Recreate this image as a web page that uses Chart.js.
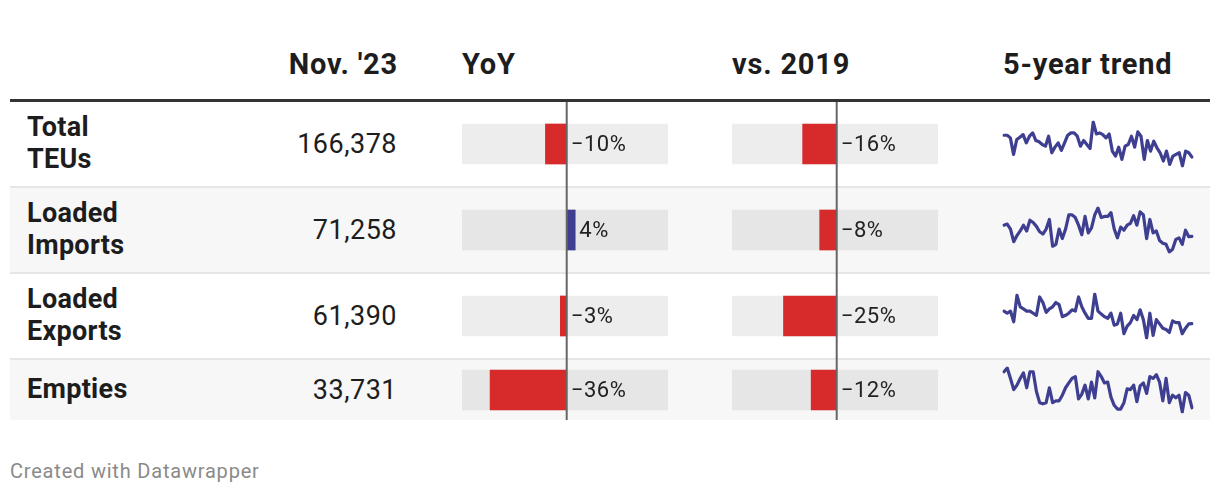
<!DOCTYPE html>
<html>
<head>
<meta charset="utf-8">
<script src="https://cdn.jsdelivr.net/npm/chart.js@4/dist/chart.umd.min.js"></script>
<style>
  body { margin: 0; width: 1220px; height: 496px; background: #fff; font-family: Roboto, "Noto Sans", sans-serif; color: #1d1d1d; position: relative; overflow: hidden; }
  .abs { position: absolute; }
  .head { font-weight: 700; font-size: 29px; line-height: 28px; top: 50px; letter-spacing: 0.8px; }
  .label { font-weight: 700; font-size: 27px; line-height: 31.6px; left: 27px; display: flex; align-items: center; letter-spacing: 0.3px; }
  .value { font-size: 27px; left: 0; width: 397px; text-align: right; display: flex; align-items: center; justify-content: flex-end; letter-spacing: 0.5px; }
  canvas { position: absolute; }
</style>
</head>
<body>
<script>
// === Data ===
const rowLabels = [["Total", "TEUs"], ["Loaded", "Imports"], ["Loaded", "Exports"], ["Empties"]];
const nov23 = [166378, 71258, 61390, 33731];
const yoyChange = [-10, 4, -3, -36];
const vs2019Change = [-16, -8, -25, -12];
const barRange = [-49.2, 47.6];

const totalTeus = [196100, 196100, 192500, 170000, 190250, 193400, 197000, 185750, 194750, 199250, 188900, 187100, 183500, 181250, 194750, 172250, 179900, 185750, 175400, 185750, 196100, 199250, 199250, 194750, 181250, 188900, 183500, 178100, 214100, 197900, 199250, 197000, 192500, 197900, 174500, 167750, 179900, 163250, 181250, 183500, 194750, 179900, 200600, 194750, 163250, 188900, 174500, 188000, 179000, 172250, 161000, 174500, 156500, 167750, 170000, 172250, 154250, 174500, 172250, 166378];
const loadedImports = [77450, 78080, 75340, 68380, 71750, 74290, 77450, 74290, 80190, 78930, 76820, 73860, 72600, 75340, 80620, 65850, 66900, 75340, 70070, 75340, 83150, 83150, 81670, 77450, 72180, 82300, 73230, 75970, 83150, 86950, 81670, 82300, 82300, 84410, 75340, 70490, 76400, 74710, 77450, 78510, 82730, 77450, 84840, 83150, 70070, 80620, 73230, 74290, 69010, 67530, 66900, 62680, 64160, 69640, 70490, 66900, 74710, 71120, 71258];
const loadedExports = [67600, 66550, 67600, 62350, 75370, 69700, 68650, 67600, 67600, 66550, 65500, 74530, 71800, 66970, 68650, 69700, 71800, 70750, 64870, 65500, 66550, 68230, 67600, 74530, 69700, 66550, 64030, 64030, 76000, 67600, 66130, 64870, 64030, 66550, 60670, 61300, 66550, 56470, 60250, 61930, 65500, 63400, 68230, 63400, 54370, 66550, 55630, 63400, 61300, 59200, 58570, 57100, 62770, 61930, 61930, 56470, 59200, 61300, 61390];
const empties = [49980, 51660, 46960, 41920, 43940, 46960, 49480, 42760, 49980, 49980, 41080, 36040, 35540, 36040, 42760, 36040, 36880, 36880, 39400, 42760, 44940, 46960, 47800, 37720, 39900, 43940, 37720, 45280, 38220, 49980, 47800, 44940, 45280, 38560, 34860, 33180, 33180, 36040, 42260, 41920, 43940, 36540, 43600, 44940, 40240, 47800, 46960, 48640, 45280, 36880, 46960, 36040, 39400, 38220, 39400, 31840, 40580, 39400, 33731];
const trends = [totalTeus, loadedImports, loadedExports, empties];

// === Layout ===
const rows = [
  { top: 102, height: 84, shaded: false },
  { top: 188, height: 84, shaded: true },
  { top: 274, height: 84, shaded: false },
  { top: 360, height: 60, shaded: true }
];
const RED = "#d62a2b";
const BLUE = "#3f3f92";

function addDiv(cls, style, html) {
  const d = document.createElement("div");
  d.className = "abs " + cls;
  Object.assign(d.style, style);
  d.innerHTML = html;
  document.body.appendChild(d);
  return d;
}

// headers
addDiv("head", { left: "0px", width: "398px", textAlign: "right" }, "Nov. '23");
addDiv("head", { left: "462px" }, "YoY");
addDiv("head", { left: "732px" }, "vs. 2019");
addDiv("head", { left: "1003px" }, "5-year trend");
addDiv("", { left: "10px", top: "99px", width: "1200px", height: "3px", background: "#333" }, "");

// rows
rows.forEach((r, i) => {
  if (r.shaded) {
    addDiv("", { left: "10px", top: r.top + "px", width: "1200px", height: r.height + "px", background: "#f7f7f7" }, "");
  }
  if (i < rows.length - 1) {
    addDiv("", { left: "10px", top: (r.top + r.height) + "px", width: "1200px", height: "2px", background: "#e6e6e6" }, "");
  }
  addDiv("label", { top: r.top + "px", height: r.height + "px" }, rowLabels[i].join("<br>"));
  addDiv("value", { top: r.top + "px", height: r.height + "px" }, nov23[i].toLocaleString("en-US"));
});

addDiv("", { left: "10px", top: "459px", fontSize: "20px", letterSpacing: "0.8px", color: "#8a8a8a" }, "Created with Datawrapper");

// === Bar cells ===
const fmtPct = (v) => (v < 0 ? "\u2212" + Math.abs(v) : String(v)) + "%";

const barExtras = {
  id: "barExtras",
  afterDatasetsDraw(chart) {
    const c = chart.ctx;
    const xs = chart.scales.x;
    const x0 = xs.getPixelForValue(0);
    const v = chart.data.datasets[0].data[0][1];
    const yMid = (chart.chartArea.top + chart.chartArea.bottom) / 2;
    c.save();
    c.strokeStyle = "#666";
    c.lineWidth = 2;
    c.beginPath();
    c.moveTo(x0, 0);
    c.lineTo(x0, chart.height);
    c.stroke();
    c.fillStyle = "#222";
    c.font = "22px Roboto";
    c.letterSpacing = "0.6px";
    c.textBaseline = "middle";
    c.fillText(fmtPct(v), Math.max(x0, xs.getPixelForValue(v)) + 4, yMid + 1);
    c.restore();
  }
};

function makeBar(left, rowIdx, value) {
  const r = rows[rowIdx];
  const last = rowIdx === rows.length - 1;
  const cv = document.createElement("canvas");
  cv.width = 206;
  cv.height = last ? r.height : r.height + 2;
  cv.style.left = left + "px";
  cv.style.top = r.top + "px";
  document.body.appendChild(cv);
  new Chart(cv.getContext("2d"), {
    type: "bar",
    data: {
      labels: [""],
      datasets: [
        { data: [[0, value]], backgroundColor: value < 0 ? RED : BLUE, barThickness: 40, grouped: false, order: 0 },
        { data: [barRange], backgroundColor: r.shaded ? "#e6e6e6" : "#ededed", barThickness: 40, grouped: false, order: 1 }
      ]
    },
    options: {
      indexAxis: "y",
      responsive: false,
      animation: false,
      devicePixelRatio: 1,
      layout: { padding: { bottom: last ? 0 : 2 } },
      scales: {
        x: { display: false, min: barRange[0], max: barRange[1] },
        y: { display: false }
      },
      plugins: { legend: { display: false }, tooltip: { enabled: false } }
    },
    plugins: [barExtras]
  });
}

// === Sparklines ===
function makeSpark(rowIdx, values) {
  const r = rows[rowIdx];
  const cv = document.createElement("canvas");
  cv.width = 200;
  cv.height = 50;
  cv.style.left = "998px";
  cv.style.top = (r.top + r.height / 2 - 25) + "px";
  document.body.appendChild(cv);
  new Chart(cv.getContext("2d"), {
    type: "line",
    data: {
      labels: values.map((_, i) => i),
      datasets: [{ data: values, borderColor: BLUE, borderWidth: 3.2, pointRadius: 0, tension: 0, borderJoinStyle: "round", borderCapStyle: "round" }]
    },
    options: {
      responsive: false,
      animation: false,
      devicePixelRatio: 1,
      layout: { padding: { left: 6, right: 6, top: 3, bottom: 3 } },
      scales: { x: { display: false }, y: { display: false, bounds: "data" } },
      plugins: { legend: { display: false }, tooltip: { enabled: false } }
    }
  });
}

document.fonts.load("22px Roboto").then(() => {
  rows.forEach((r, i) => {
    makeBar(462, i, yoyChange[i]);
    makeBar(732, i, vs2019Change[i]);
    makeSpark(i, trends[i]);
  });
});
</script>
</body>
</html>
